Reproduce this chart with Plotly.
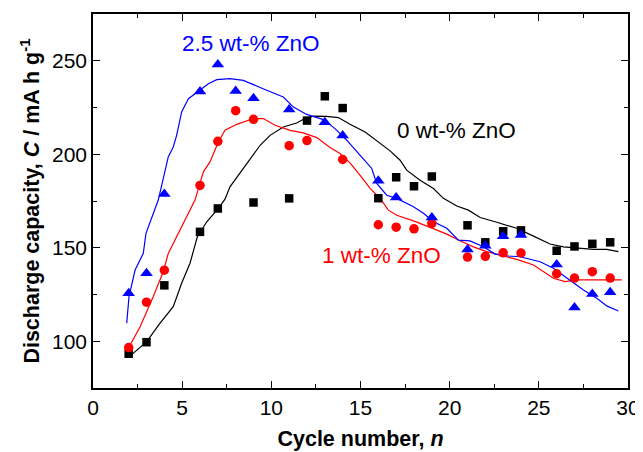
import plotly.graph_objects as go

# Measured points
sq_x = [2, 3, 4, 6, 7, 9, 11, 12, 13, 14, 16, 17, 18, 19, 21, 22, 23, 24, 26, 27, 28, 29]
sq_y = [93.3, 99.5, 129.9, 158.5, 171, 174.2, 176.4, 218, 231, 224.7, 176.5, 187.7, 182.9, 188.1,
        162, 152.9, 158.8, 159.3, 148.4, 150.7, 152.1, 152.9]

ci_x = [2, 3, 4, 6, 7, 8, 9, 11, 12, 14, 16, 17, 18, 19, 21, 22, 23, 24, 26, 27, 28, 29]
ci_y = [96.6, 120.9, 138, 183.3, 206.9, 223.3, 218.7, 204.6, 207.3, 197.2, 162.3, 161, 160.1, 163,
        145, 145.4, 147.3, 147.2, 136.1, 133.8, 137.2, 133.8]

tr_x = [2, 3, 4, 6, 7, 8, 9, 11, 13, 14, 16, 17, 19, 21, 22, 23, 24, 26, 27, 28, 29]
tr_y = [125.7, 136.3, 178.7, 233.5, 248, 233.8, 229.9, 223.9, 217.1, 210, 185.8, 176.9, 166.2,
        149.1, 151.1, 156.2, 156.8, 141.1, 118, 125.3, 126.2]

# Smoothed curves
blk_cx = [2.04, 3.01, 3.76, 4.5, 4.97, 5.44, 5.85, 6.38, 7.03, 7.4, 7.68, 8.43, 8.99, 9.37, 9.93,
          10.67, 11.42, 11.89, 12.36, 13.1, 13.76, 14.41, 15.26, 15.91, 16.66, 17.22, 17.59, 18.34,
          19.09, 19.65, 20.4, 21.05, 21.71, 22.55, 23.29, 23.76, 24.7, 25.63, 26.38, 27.13, 28.06,
          28.81, 29.46]
blk_cy = [91.8, 99.8, 109.7, 118.5, 131, 141.7, 155.9, 163.9, 171, 176, 182.6, 192.4, 200.4, 204.8,
          210.1, 214.6, 216.7, 219.1, 220.4, 220.3, 219.6, 216, 211.9, 207.1, 201.8, 196.8, 191.5,
          186.1, 181.7, 176.4, 172.3, 170.1, 166.2, 163.9, 161.6, 160.4, 156.2, 152, 150.5, 149.7,
          149.1, 149.1, 147.9]

red_cx = [2.04, 2.64, 3.38, 3.94, 4.22, 4.97, 5.72, 6.19, 6.56, 7.03, 7.4, 8.06, 8.99, 9.55, 10.21,
          11.05, 11.79, 12.55, 13.29, 13.85, 14.41, 14.97, 15.54, 16.1, 16.56, 17.03, 17.97, 18.9,
          19.84, 20.58, 21.33, 22.08, 22.83, 23.76, 24.7, 25.26, 25.82, 26.47, 27.13, 28.0, 29.65]
red_cy = [97.2, 107.8, 123.9, 137.2, 147, 161.2, 175.5, 190.6, 195.9, 206.6, 212.8, 216, 219.1,
          219.1, 215.5, 212.8, 211.4, 208.9, 203.6, 200.4, 195.4, 188.8, 181.7, 176.4, 170.1, 167.4,
          164.4, 160.9, 157.3, 153.7, 150.5, 147.9, 146.1, 143.8, 140.8, 137.2, 133.7, 131.9, 132.8,
          132.8, 132.8]

blu_cx = [1.89, 2.02, 2.36, 2.82, 2.97, 3.29, 3.66, 4.22, 4.5, 4.69, 4.97, 5.35, 6.0, 6.47, 6.94,
          7.68, 8.43, 9.18, 9.74, 10.67, 11.24, 11.98, 12.92, 13.57, 14.23, 14.97, 15.63, 15.91,
          16.47, 17.03, 17.97, 18.53, 19.09, 19.84, 20.49, 21.14, 21.89, 22.55, 23.29, 23.95, 25.07,
          25.82, 26.57, 27.5, 28.25, 28.81, 29.46]
blu_cy = [109.7, 123.9, 138.1, 147, 157.7, 165.7, 175.5, 198.6, 203.9, 210.1, 222.6, 229.7, 234.2,
          237.7, 239.9, 240.4, 239.5, 236.3, 234.2, 230.6, 225.2, 221.3, 218.5, 213.7, 207.5, 199.5,
          192.4, 184.4, 178.1, 176.4, 171.9, 168.4, 163.9, 160.4, 154.1, 153.7, 150.5, 146.6, 145.6,
          145.2, 142.5, 139, 133.7, 127.4, 123, 118.9, 116.2]

BLUE = "#0000ff"
RED = "#ff0000"
BLACK = "#000000"

fig = go.Figure()
fig.add_trace(go.Scatter(x=blk_cx, y=blk_cy, mode="lines", line=dict(color=BLACK, width=1.2)))
fig.add_trace(go.Scatter(x=red_cx, y=red_cy, mode="lines", line=dict(color=RED, width=1.2)))
fig.add_trace(go.Scatter(x=blu_cx, y=blu_cy, mode="lines", line=dict(color=BLUE, width=1.2)))
fig.add_trace(go.Scatter(x=sq_x, y=sq_y, mode="markers",
                         marker=dict(symbol="square", size=8.5, color=BLACK)))
fig.add_trace(go.Scatter(x=ci_x, y=ci_y, mode="markers",
                         marker=dict(symbol="circle", size=9.5, color=RED)))
fig.add_trace(go.Scatter(x=tr_x, y=tr_y, mode="markers",
                         marker=dict(symbol="triangle-up", size=11, color=BLUE)))

lab_font = "Liberation Sans, Arial, sans-serif"
fig.add_annotation(x=8.86, y=259.2, text="2.5 wt-% ZnO", showarrow=False,
                   font=dict(color=BLUE, size=22.5, family=lab_font))
fig.add_annotation(x=20.4, y=212.8, text="0 wt-% ZnO", showarrow=False,
                   font=dict(color=BLACK, size=22.5, family=lab_font))
fig.add_annotation(x=16.2, y=145.6, text="1 wt-% ZnO", showarrow=False,
                   font=dict(color=RED, size=22.5, family=lab_font))

axis_common = dict(showline=True, linecolor=BLACK, linewidth=1.5, mirror="ticks",
                   ticks="inside", ticklen=7, tickwidth=1.3, tickcolor=BLACK,
                   showgrid=False, zeroline=False,
                   tickfont=dict(size=21, family=lab_font, color=BLACK))

fig.update_xaxes(range=[0, 30], dtick=5, tick0=0,
                 minor=dict(dtick=2.5, ticks="inside", ticklen=4, tickcolor=BLACK, tickwidth=1.2),
                 title=dict(text="<b>Cycle number, <i>n</i></b>", standoff=13,
                            font=dict(size=21.5, family=lab_font, color=BLACK)),
                 **axis_common)
fig.update_yaxes(range=[75, 275], dtick=50, tick0=0,
                 minor=dict(dtick=25, ticks="inside", ticklen=4, tickcolor=BLACK, tickwidth=1.2),
                 title=dict(text="<b>Discharge capacity, <i>C</i> / mA h g<sup>-1</sup></b>", standoff=6,
                            font=dict(size=21.5, family=lab_font, color=BLACK)),
                 **axis_common)

# page body adds an 8px offset; figure is sized to fit the window
fig.update_layout(width=635, height=444, showlegend=False,
                  plot_bgcolor="white", paper_bgcolor="white",
                  margin=dict(l=85, r=15, t=6, b=64, autoexpand=False))

fig.write_html("out.html")
